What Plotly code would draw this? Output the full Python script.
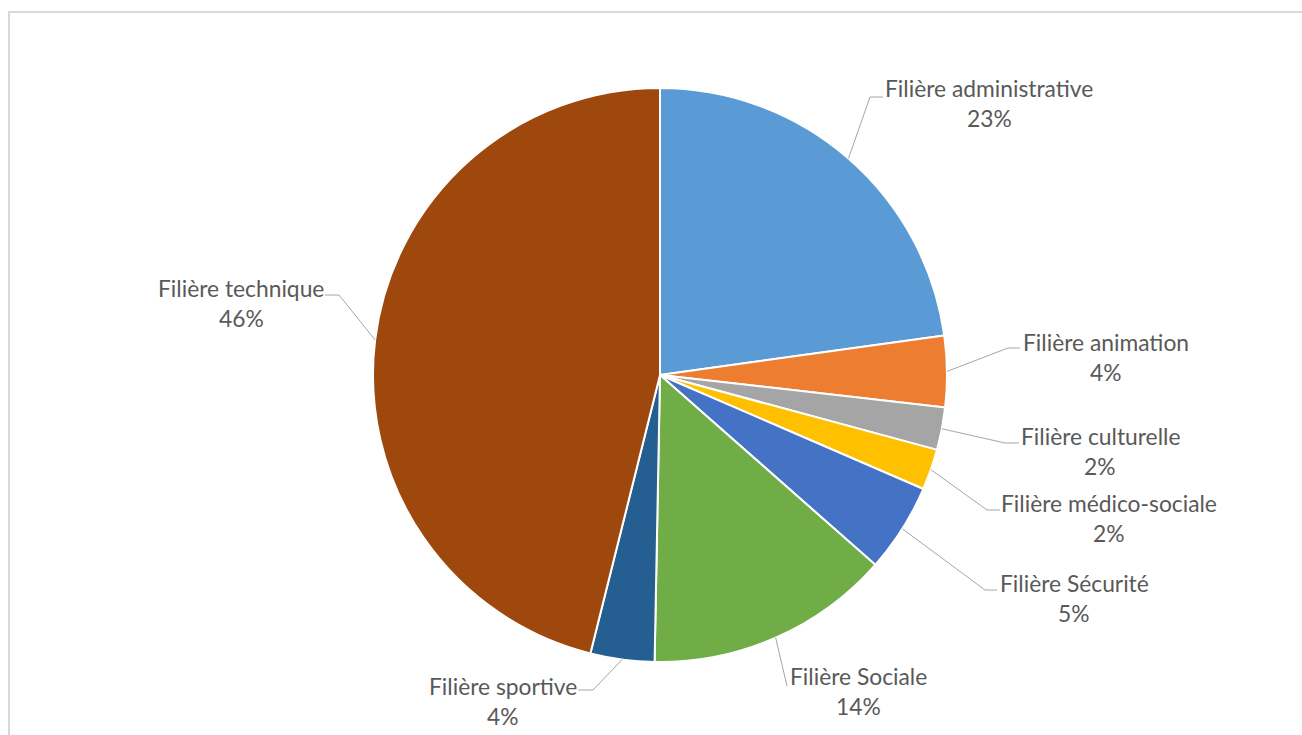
import math
import plotly.graph_objects as go

# ---- data ----
categories = ["Filière administrative", "Filière animation", "Filière culturelle",
              "Filière médico-sociale", "Filière Sécurité", "Filière Sociale",
              "Filière sportive", "Filière technique"]
values = [22.8, 4.0, 2.4, 2.3, 5.0, 13.8, 3.6, 46.1]
colors = ["#5B9BD5", "#ED7D31", "#A5A5A5", "#FFC000", "#4472C4", "#70AD47",
          "#255E91", "#9E480E"]

# ---- layout constants (pixels) ----
W, H = 1302, 735
CX, CY, R = 660, 375, 287
# label centre of first line (x, y), elbow point, end of horizontal leader
label_pos = [(989, 88), (1106, 342), (1100, 436), (1109, 503), (1074, 583),
             (858, 676), (503, 686), (241, 288)]
elbows = [(870, 97), (1008, 348), (1005, 443), (987, 510), (985, 590),
          (787, 686), (593, 690), (339, 295)]
ends = [(883, 97), (1020, 348), (1019, 443), (1000, 510), (997, 590),
        (787, 686), (578, 690), (325, 295)]

def px(x):
    return x / W

def py(y):
    return 1 - y / H

fig = go.Figure(go.Pie(
    labels=categories, values=values, sort=False, direction="clockwise",
    rotation=0, textinfo="none", hoverinfo="label+percent",
    marker=dict(colors=colors, line=dict(color="white", width=2)),
    domain=dict(x=[px(CX - R), px(CX + R)], y=[py(CY + R), py(CY - R)]),
    showlegend=False,
))

shapes = [dict(type="rect", xref="paper", yref="paper",
               x0=px(9), x1=1.02, y0=-0.02, y1=py(12),
               line=dict(color="#D9D9D9", width=2), layer="below")]
annotations = []
total = sum(values)
cum = 0.0
font = dict(family="Lato, Carlito, Calibri, sans-serif", size=22.8, color="#595959")
for i, v in enumerate(values):
    mid = (cum + v / 2) / total * 2 * math.pi
    cum += v
    sx = CX + R * math.sin(mid)
    sy = CY - R * math.cos(mid)
    ex, ey = elbows[i]
    fx, fy = ends[i]
    path = f"M {px(sx)},{py(sy)} L {px(ex)},{py(ey)} L {px(fx)},{py(fy)}"
    shapes.append(dict(type="path", xref="paper", yref="paper", path=path,
                       line=dict(color="#A6A6A6", width=1)))
    lx, ly = label_pos[i]
    annotations.append(dict(x=px(lx), y=py(ly), xref="paper", yref="paper",
                            text=categories[i], showarrow=False, font=font,
                            xanchor="center", yanchor="middle"))
    pct = round(v / total * 100)
    annotations.append(dict(x=px(lx), y=py(ly + 30), xref="paper", yref="paper",
                            text=f"{pct}%", showarrow=False, font=font,
                            xanchor="center", yanchor="middle"))

fig.update_layout(width=W, height=H, margin=dict(l=0, r=0, t=0, b=0),
                  paper_bgcolor="white", plot_bgcolor="white",
                  shapes=shapes, annotations=annotations)

fig.write_html("out.html")
